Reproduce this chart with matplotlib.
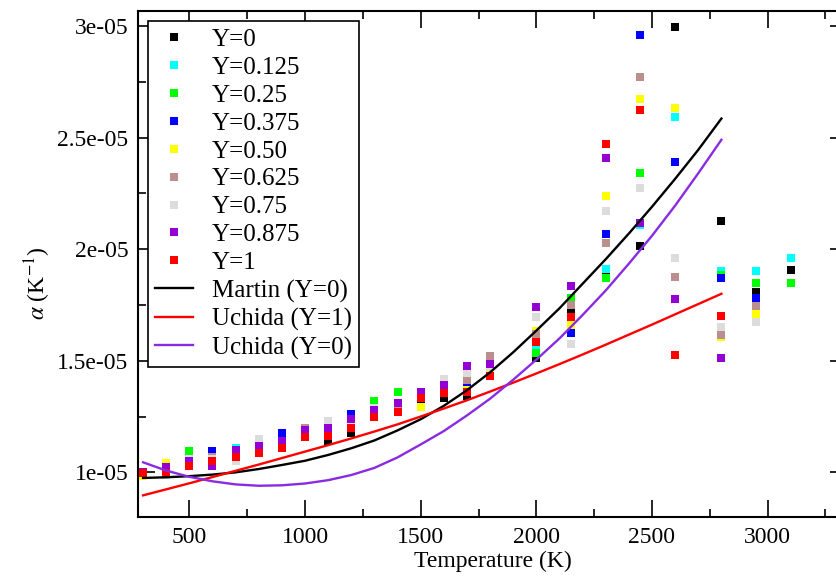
import numpy as np
import matplotlib
matplotlib.use("Agg")
import matplotlib.pyplot as plt
from matplotlib.ticker import MultipleLocator, FuncFormatter

nan = np.nan
SCALE = 1e-5  # values below are in units of 1e-5 K^-1

temps = [300, 400, 500, 600, 700, 800, 900, 1000, 1100, 1200, 1300, 1400,
         1500, 1600, 1700, 1800, 2000, 2150, 2300, 2450, 2600, 2800, 2950, 3100]

y_000 = [0.995, 1.01, 1.03, 1.05, 1.07, 1.085, 1.107, 1.16, 1.14, 1.175, 1.25, 1.27,
         1.33, 1.335, 1.34, 1.43, 1.513, 1.723, 1.88, 2.013, 2.996, 2.125, 1.808, 1.906]
y_0125 = [1.0, 1.01, 1.05, 1.06, 1.11, 1.12, 1.14, 1.18, 1.2, 1.23, 1.28, 1.31,
          1.34, 1.37, 1.38, 1.45, 1.553, 1.775, 1.91, 2.107, 2.59, 1.90, 1.90, 1.96]
y_025 = [1.0, 1.01, 1.094, 1.06, 1.08, 1.11, 1.13, 1.17, 1.19, 1.22, 1.32, 1.36,
         1.34, 1.37, 1.37, 1.45, 1.536, 1.78, 1.87, 2.34, 2.634, 1.885, 1.848, 1.848]
y_0375 = [1.0, 1.01, 1.05, 1.094, 1.09, 1.12, 1.175, 1.18, 1.2, 1.26, 1.28, 1.30,
          1.34, 1.37, 1.39, 1.46, 1.60, 1.625, 2.07, 2.96, 2.39, 1.87, 1.78, nan]
y_050 = [0.985, 1.04, 1.05, 1.06, 1.08, 1.10, 1.12, 1.17, 1.19, 1.21, 1.27, 1.29,
         1.295, 1.36, 1.37, 1.45, 1.634, 1.66, 2.24, 2.674, 2.634, 1.607, 1.71, nan]
y_0625 = [1.0, 0.99, 1.055, 1.07, 1.08, 1.11, 1.13, 1.2, 1.2, 1.23, 1.28, 1.30,
          1.35, 1.38, 1.415, 1.522, 1.62, 1.75, 2.027, 2.772, 1.875, 1.616, 1.745, nan]
y_075 = [1.0, 0.99, 1.06, 1.06, 1.05, 1.15, 1.13, 1.18, 1.228, 1.23, 1.29, 1.31,
         1.35, 1.42, 1.446, 1.47, 1.696, 1.576, 2.17, 2.272, 1.96, 1.652, 1.674, nan]
y_0875 = [1.0, 1.022, 1.05, 1.027, 1.098, 1.12, 1.14, 1.19, 1.2, 1.237, 1.28, 1.31,
          1.36, 1.39, 1.478, 1.487, 1.74, 1.835, 2.41, 2.116, 1.777, 1.513, nan, nan]
y_100 = [0.995, 0.995, 1.03, 1.05, 1.07, 1.085, 1.107, 1.16, 1.165, 1.2, 1.25, 1.27,
         1.335, 1.357, 1.36, 1.43, 1.585, 1.696, 2.469, 2.625, 1.527, 1.70, nan, nan]

series_labels = ["Y=0", "Y=0.125", "Y=0.25", "Y=0.375", "Y=0.50",
                 "Y=0.625", "Y=0.75", "Y=0.875", "Y=1"]
series_values = [y_000, y_0125, y_025, y_0375, y_050, y_0625, y_075, y_0875, y_100]
series_colors = ["#000000", "#00FFFF", "#00FF00", "#0000FF", "#FFFF00",
                 "#BC8F8F", "#DCDCDC", "#9400D3", "#FF0000"]

curve_T = [300, 400, 500, 600, 700, 800, 900, 1000, 1100, 1200, 1300, 1400, 1500,
           1600, 1700, 1800, 1900, 2000, 2100, 2200, 2300, 2400, 2500, 2600, 2700, 2800]
martin_y0 = [0.975, 0.978, 0.983, 0.99, 1.0, 1.015, 1.033, 1.052, 1.078, 1.108, 1.143,
             1.188, 1.238, 1.298, 1.368, 1.448, 1.538, 1.635, 1.735, 1.845, 1.955,
             2.07, 2.19, 2.315, 2.445, 2.585]
uchida_y1 = [0.897, 0.924, 0.951, 0.979, 1.007, 1.035, 1.064, 1.093, 1.122, 1.152,
             1.183, 1.215, 1.25, 1.286, 1.323, 1.362, 1.402, 1.443, 1.485, 1.528,
             1.572, 1.617, 1.662, 1.708, 1.754, 1.80]
uchida_y0 = [1.045, 1.008, 0.98, 0.96, 0.946, 0.94, 0.942, 0.95, 0.965, 0.988, 1.02,
             1.067, 1.125, 1.185, 1.255, 1.33, 1.415, 1.505, 1.60, 1.705, 1.815,
             1.935, 2.06, 2.195, 2.34, 2.49]
curve_labels = ["Martin (Y=0)", "Uchida (Y=1)", "Uchida (Y=0)"]
curve_colors = ["#000000", "#FF0000", "#8A2BE2"]

plt.rcParams['font.family'] = ['Liberation Serif', 'DejaVu Serif']
plt.rcParams['mathtext.fontset'] = 'stix'

fig = plt.figure(figsize=(8.37, 5.77), dpi=100)
ax = fig.add_axes([138/837, 60/577, (847-138)/837, (517-11)/577])

for vals, lab, col in zip(series_values, series_labels, series_colors):
    ax.plot(temps, np.array(vals) * SCALE, linestyle='none', marker='s',
            markersize=6.2, markeredgewidth=0, color=col, label=lab)

for vals, lab, col in zip([martin_y0, uchida_y1, uchida_y0], curve_labels, curve_colors):
    ax.plot(curve_T, np.array(vals) * SCALE, color=col, linewidth=1.7, label=lab)

ax.set_xlim(278, 3343)
ax.set_ylim(0.8e-5, 3.067e-5)

ax.xaxis.set_major_locator(MultipleLocator(500))
ax.xaxis.set_minor_locator(MultipleLocator(250))
ax.yaxis.set_major_locator(MultipleLocator(0.5e-5))
ax.yaxis.set_minor_locator(MultipleLocator(0.25e-5))
ax.yaxis.set_major_formatter(FuncFormatter(lambda v, p: "%g" % v))

ax.tick_params(which='both', direction='in', top=True, right=True, width=1.2,
               labelsize=17, colors='black')
ax.tick_params(which='major', length=12, pad=7)
ax.tick_params(which='minor', length=6)
for s in ax.spines.values():
    s.set_linewidth(1.5)

ax.set_xlabel("Temperature (K)", fontsize=17, labelpad=2)
ax.set_ylabel(r"$\alpha$ (K$^{-1}$)", fontsize=17, labelpad=8)
ax.yaxis.set_label_coords(-0.12, 0.462)

leg = ax.legend(loc='upper left', bbox_to_anchor=(0.0141, 0.98), borderaxespad=0,
                fontsize=18, labelspacing=0.215, handlelength=1.5, handletextpad=0.75,
                fancybox=False, framealpha=1, edgecolor='black', borderpad=0.3)
leg.get_frame().set_linewidth(1.2)

fig.savefig("out.png", dpi=100)
